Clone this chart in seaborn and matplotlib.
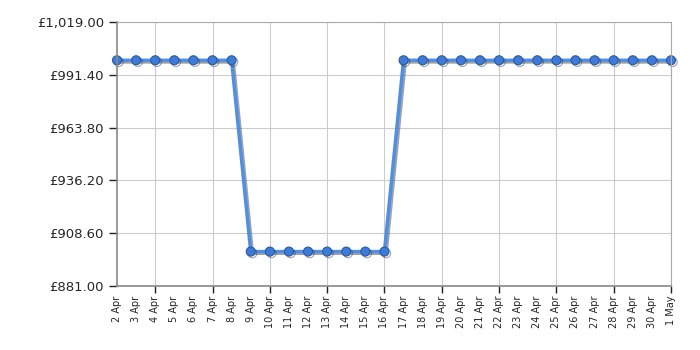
import matplotlib
matplotlib.use("Agg")
import matplotlib.pyplot as plt
import matplotlib.patheffects as pe
import seaborn as sns
import pandas as pd
import numpy as np

dates = ["2 Apr", "3 Apr", "4 Apr", "5 Apr", "6 Apr", "7 Apr", "8 Apr", "9 Apr", "10 Apr",
         "11 Apr", "12 Apr", "13 Apr", "14 Apr", "15 Apr", "16 Apr", "17 Apr", "18 Apr",
         "19 Apr", "20 Apr", "21 Apr", "22 Apr", "23 Apr", "24 Apr", "25 Apr", "26 Apr",
         "27 Apr", "28 Apr", "29 Apr", "30 Apr", "1 May"]
prices = [998.99] * 7 + [898.99] * 8 + [998.99] * 15
y_ticks = [881.00, 908.60, 936.20, 963.80, 991.40, 1019.00]

df = pd.DataFrame({"idx": np.arange(len(dates)), "price": prices})

sns.set_style("white")
plt.rcParams['font.family'] = ['DejaVu Sans']

fig = plt.figure(figsize=(7, 3.5), dpi=100)
ax = fig.add_axes([117/700, 1 - 286/350, (671-117)/700, (286-22)/350])

sns.lineplot(data=df, x="idx", y="price", ax=ax, color="#5090e4", linewidth=2.5,
             marker="o", markersize=6.5, markerfacecolor="#3d7bd6",
             markeredgecolor="#2a5aa5", markeredgewidth=0.8, clip_on=False,
             path_effects=[pe.SimpleLineShadow(offset=(1.2, -1.2), shadow_color="#333333", alpha=0.45), pe.Normal()])

ax.set_xlim(0, len(dates) - 1)
ax.set_ylim(881, 1019)
ax.set_xlabel("")
ax.set_ylabel("")

ax.set_yticks(y_ticks)
ax.set_yticklabels([f"£{v:,.2f}" for v in y_ticks], fontsize=9.5)

ax.xaxis.remove_overlapping_locs = False
ax.set_xticks(np.arange(len(dates)))
ax.set_xticklabels(dates, rotation=90, fontsize=7)
grid_pos = [i for i in range(len(dates)) if i % 3 == 2]
ax.set_xticks(grid_pos, minor=True)
ax.tick_params(axis="x", which="major", length=0, pad=7)
ax.tick_params(axis="x", which="minor", length=5, width=1, color="#222222", direction="out", bottom=True)
ax.tick_params(axis="y", length=6, width=1, color="#222222", direction="out", left=True)

ax.grid(False)
ax.grid(True, axis="x", which="minor", color="#cccccc", linewidth=0.8)
ax.grid(True, axis="y", which="major", color="#cccccc", linewidth=0.8)
ax.set_axisbelow(True)
for s in ["top", "right"]:
    ax.spines[s].set_color("#aaaaaa")
    ax.spines[s].set_linewidth(0.8)
ax.spines["left"].set_color("#888888")
ax.spines["bottom"].set_color("#888888")
ax.spines["left"].set_linewidth(1.2)
ax.spines["bottom"].set_linewidth(1.2)

fig.savefig("out.png", dpi=100)
